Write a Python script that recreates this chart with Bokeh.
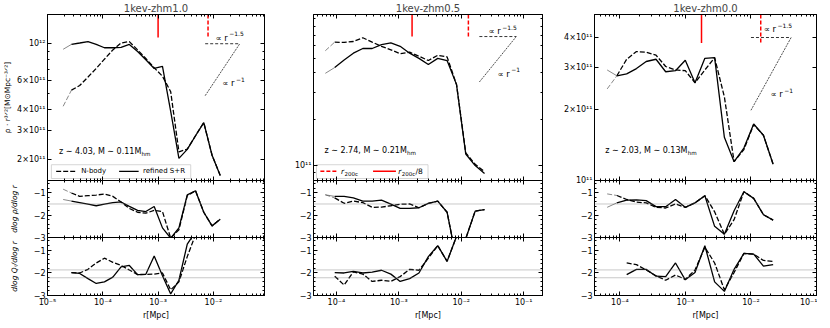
import numpy as np
from bokeh.plotting import figure
from bokeh.models import LogAxis, LinearAxis, FixedTicker, Range1d, Span
from bokeh.layouts import row, column
from bokeh.embed import file_html
from bokeh.resources import INLINE
from bokeh.core.properties import value

FONT = "DejaVu Sans"

TITLES = ["1kev-zhm1.0", "1kev-zhm0.5", "1kev-zhm0.0"]
ANNOT = ["z ∼ 4.03, M ∼ 0.11M", "z ∼ 2.74, M ∼ 0.21M", "z ∼ 2.03, M ∼ 0.13M"]

# ---------------- data: column 1 (1kev-zhm1.0) ----------------
R1 = [1.92e-5, 2.71e-5, 3.82e-5, 5.40e-5, 7.6e-5, 1.07e-4, 1.52e-4, 2.14e-4, 3.02e-4, 4.26e-4,
      6.0e-4, 8.5e-4, 1.20e-3, 1.69e-3, 2.38e-3, 3.37e-3, 4.75e-3, 6.7e-3, 9.46e-3, 1.33e-2]
NB1_RHO = [4.2e11, 5.25e11, 5.6e11, 6.3e11, 7.1e11, 8.07e11, 9.18e11, 1.01e12, 1.03e12, 9.18e11,
           8.15e11, 7.16e11, 6.37e11, 5.14e11, 2.23e11, 2.32e11, 2.79e11, 3.35e11, 2.13e11, 1.61e11]
SR1_RHO = [9.26e11, 9.91e11, 1.01e12, 1.03e12, 9.91e11, 9.46e11, 9.46e11, 9.5e11, 9.91e11, 8.98e11,
           8.0e11, 7.1e11, 7.31e11, 3.91e11, 2.04e11, 2.31e11, 2.79e11, 3.35e11, 2.13e11, 1.61e11]
NB1_S = [-0.84, -1.01, -1.16, -1.13, -1.10, -1.06, -1.16, -1.41, -1.70, -1.87,
         -1.91, -1.79, -1.84, -3.03, -2.65, -1.13, -0.91, -1.87, -2.48, -2.18]
SR1_S = [-1.30, -1.37, -1.44, -1.51, -1.58, -1.51, -1.44, -1.41, -1.61, -1.79,
         -1.84, -1.61, -2.57, -3.03, -2.57, -1.09, -0.91, -1.87, -2.48, -2.18]
R1Q = R1[1:17]
NB1_Q = [-1.99, -2.01, -1.85, -1.57, -1.36, -1.54, -1.68, -1.88, -2.08, -2.07,
         -2.06, -2.01, -2.75, -2.40, -1.29, -0.32]
SR1_Q = [-1.99, -2.03, -2.26, -2.47, -2.40, -2.19, -1.74, -1.68, -2.08, -2.07,
         -1.26, -2.13, -2.93, -2.33, -0.74, -0.20]

# ---------------- data: column 2 (1kev-zhm0.5) ----------------
R2 = [6.65e-5, 9.4e-5, 1.33e-4, 1.87e-4, 2.65e-4, 3.74e-4, 5.28e-4, 7.46e-4, 1.05e-3,
      1.49e-3, 2.10e-3, 2.97e-3, 4.2e-3, 5.93e-3, 8.4e-3, 1.18e-2, 1.67e-2, 2.36e-2]
NB2_RHO = [5.58e11, 6.35e11, 6.32e11, 6.41e11, 6.78e11, 6.35e11, 5.96e11, 5.66e11, 5.33e11,
           5.46e11, 5.14e11, 4.82e11, 5.21e11, 5.09e11, 3.36e11, 1.21e11, 1.02e11, 9.12e10]
SR2_RHO = [3.98e11, 4.34e11, 4.86e11, 5.38e11, 5.77e11, 5.77e11, 6.12e11, 6.27e11, 5.96e11,
           5.38e11, 4.98e11, 4.54e11, 4.98e11, 4.82e11, 3.36e11, 1.19e11, 1.0e11, 8.9e10]
NB2_S = [-1.09, -1.23, -1.47, -1.37, -1.44, -1.65, -1.64, -1.58, -1.51,
         -1.50, -1.67, -1.47, -1.37, -1.87, -4.0, -3.05, -1.82, -1.75]
SR2_S = [-1.09, -1.16, -1.16, -1.23, -1.37, -1.37, -1.33, -1.51, -1.70,
         -1.70, -1.67, -1.47, -1.37, -1.87, -4.0, -3.05, -1.82, -1.75]
R2Q = R2[1:15]
NB2_Q = [-2.15, -2.54, -1.96, -2.06, -2.38, -2.33, -2.38, -2.17, -1.85, -1.89, -1.36, -0.81, -1.50, -0.40]
SR2_Q = [-1.99, -2.01, -1.94, -2.01, -1.97, -1.89, -2.06, -2.38, -2.26, -2.01, -1.29, -0.81, -1.50, -0.40]

# ---------------- data: column 3 (1kev-zhm0.0) ----------------
R3 = [6.4e-5, 9.0e-5, 1.27e-4, 1.79e-4, 2.52e-4, 3.56e-4, 5.0e-4, 7.06e-4, 9.95e-4,
      1.40e-3, 1.98e-3, 2.79e-3, 3.93e-3, 5.53e-3, 7.8e-3, 1.10e-2, 1.55e-2, 2.18e-2]
NB3_RHO = [2.43e11, 2.76e11, 3.24e11, 3.49e11, 3.47e11, 3.37e11, 3.02e11, 2.92e11, 2.90e11,
           2.58e11, 2.92e11, 3.29e11, 2.25e11, 1.20e11, 1.35e11, 1.72e11, 1.55e11, 1.17e11]
SR3_RHO = [2.92e11, 2.76e11, 2.81e11, 2.96e11, 3.17e11, 3.24e11, 2.87e11, 2.90e11, 3.21e11,
           2.58e11, 3.27e11, 3.29e11, 1.52e11, 1.20e11, 1.37e11, 1.73e11, 1.55e11, 1.17e11]
NB3_S = [-1.05, -1.12, -1.30, -1.42, -1.45, -1.65, -1.68, -1.50, -1.65,
         -1.45, -1.13, -1.85, -2.86, -2.20, -0.95, -1.25, -1.98, -2.22]
SR3_S = [-1.65, -1.45, -1.33, -1.32, -1.35, -1.62, -1.62, -1.30, -1.65,
         -1.45, -1.13, -2.50, -2.86, -1.80, -0.95, -1.25, -1.98, -2.22]
R3Q = R3[2:18]
NB3_Q = [-1.57, -1.64, -1.88, -2.13, -2.33, -2.10, -2.29, -1.88, -0.88, -1.57,
         -2.75, -1.99, -1.15, -1.18, -1.46, -1.50]
SR3_Q = [-2.08, -1.85, -1.85, -2.15, -2.17, -1.57, -2.31, -1.99, -0.81, -2.40,
         -2.82, -1.85, -1.15, -1.18, -1.71, -1.64]

R200C = [8.0e-3, 1.3e-2, 1.41e-2]
R200C_8 = [1.0e-3, 1.63e-3, 1.76e-3]
RED_END = [1.09e12, 6.9e11, 3.79e11]
GUIDE_XA = [7.1e-3, 1.95e-2, 1.0e-2]
GUIDE_XB = [3.0e-2, 7.6e-2, 4.1e-2]
GUIDE_Y0 = [1.0e12, 6.9e11, 4.0e11]
SLOPE_REF = -1.5
Q_REF = [-1.875, -2.22]

XLIM = [(1e-5, 0.084), (4.3e-5, 0.2), (4.1e-5, 0.1)]
YLIM = [(1.5e11, 1.5e12), (8.0e10, 9.6e11), (1.0e11, 5.0e11)]
DLIM = (-3.0, -0.45)

YMAJ = [[2e11, 3e11, 4e11, 6e11, 1e12], [1e11], [1e11, 2e11, 3e11, 4e11]]
YLAB = [["2×10¹¹", "3×10¹¹", "4×10¹¹", "6×10¹¹", "10¹²"], ["10¹¹"], ["10¹¹", "2×10¹¹", "3×10¹¹", "4×10¹¹"]]
YMIN = [[5e11, 7e11, 8e11, 9e11], [9e10, 2e11, 3e11, 4e11, 5e11, 6e11, 7e11, 8e11, 9e11], [5e11]]

COLS = [
    dict(r=R1, nb=NB1_RHO, sr=SR1_RHO, nbs=NB1_S, srs=SR1_S, rq=R1Q, nbq=NB1_Q, srq=SR1_Q),
    dict(r=R2, nb=NB2_RHO, sr=SR2_RHO, nbs=NB2_S, srs=SR2_S, rq=R2Q, nbq=NB2_Q, srq=SR2_Q),
    dict(r=R3, nb=NB3_RHO, sr=SR3_RHO, nbs=NB3_S, srs=SR3_S, rq=R3Q, nbq=NB3_Q, srq=SR3_Q),
]

# ---------------- layout / style ----------------
BL = [44, 22, 31]
FW = [217, 229, 222]
BR = [27, 19, 3]
H_MAIN, H_MID, H_LOW = 166, 57, 58
OV = 6          # border shared by stacked panels (overlapped)
B_BOT = 24
TICK_FS = "8px"
DASH = "5 2"

SUP = str.maketrans("0123456789-", "⁰¹²³⁴⁵⁶⁷⁸⁹⁻")
XMAJ = [1e-6, 1e-5, 1e-4, 1e-3, 1e-2, 1e-1, 1.0]
XLAB = {t: "10" + str(e).translate(SUP) for t, e in zip(XMAJ, [-6, -5, -4, -3, -2, -1, 0])}
XMIN = [m * t for t in XMAJ[:-1] for m in range(2, 10)]
DMAJ = [-3, -2, -1]
DLAB = {-3: "−3", -2: "−2", -1: "−1"}
DMIN = [round(-3 + 0.2 * i, 2) for i in range(1, 14) if abs(round(-3 + 0.2 * i, 2) % 1) > 1e-6]


def style_axis(ax, show):
    ax.major_tick_in = 4
    ax.major_tick_out = 0
    ax.minor_tick_in = 2
    ax.minor_tick_out = 0
    ax.axis_line_color = "black"
    ax.major_tick_line_color = "black"
    ax.minor_tick_line_color = "black"
    ax.major_label_text_font = FONT
    ax.major_label_text_color = "black"
    ax.axis_label_text_font = FONT
    ax.axis_label_text_color = "black"
    if show:
        ax.major_label_text_font_size = TICK_FS
        ax.major_label_standoff = 2
    else:
        ax.major_label_text_font_size = "1px"
        ax.major_label_text_alpha = 0
        ax.major_label_standoff = 0


def make_fig(c, xr, yr, ylog, fh, top, bottom, yt, ylab, title=None, show_x=False, shift=False):
    kw = {}
    if shift:
        kw["styles"] = {"margin-top": f"-{2 * OV}px"}
    p = figure(x_axis_type="log", y_axis_type=("log" if ylog else "linear"),
               x_range=xr, y_range=yr, frame_width=FW[c], frame_height=fh,
               min_border_left=BL[c], min_border_right=BR[c],
               min_border_top=top, min_border_bottom=bottom,
               output_backend="svg", toolbar_location=None, title=title, **kw)
    p.xgrid.visible = False
    p.ygrid.visible = False
    p.outline_line_color = "black"
    p.background_fill_color = "white"
    p.border_fill_alpha = 0
    xb = p.xaxis[0]
    yl = p.yaxis[0]
    xb.ticker = FixedTicker(ticks=XMAJ, minor_ticks=XMIN)
    xb.major_label_overrides = XLAB
    style_axis(xb, show_x)
    yl.ticker = yt
    yl.major_label_overrides = ylab
    style_axis(yl, True)
    top_ax = LogAxis(ticker=FixedTicker(ticks=XMAJ, minor_ticks=XMIN))
    style_axis(top_ax, False)
    p.add_layout(top_ax, "above")
    right_ax = (LogAxis if ylog else LinearAxis)(ticker=FixedTicker(ticks=yt.ticks, minor_ticks=yt.minor_ticks))
    style_axis(right_ax, False)
    p.add_layout(right_ax, "right")
    if title is not None:
        p.title.align = "center"
        p.title.text_font = FONT
        p.title.text_font_size = "10px"
        p.title.text_font_style = "normal"
        p.title.standoff = 1
    return p, xb, yl


def fx(xr, f):
    lo, hi = np.log10(xr.start), np.log10(xr.end)
    return 10 ** (lo + f * (hi - lo))


def fyl(yr, f):
    lo, hi = np.log10(yr.start), np.log10(yr.end)
    return 10 ** (lo + f * (hi - lo))


def txt(p, x, y, s, size, dx=0, dy=0, style="normal", color="black"):
    p.text(x=[x], y=[y], text=[s], text_font=value(FONT), text_font_size=size,
           text_baseline="middle", text_align="left", x_offset=dx, y_offset=dy,
           text_color=color, text_font_style=style)


def curve(p, r, y, dash, thin_first):
    if thin_first:
        p.line(r[:2], y[:2], line_color="#555555", line_width=0.7, line_dash=dash)
        p.line(r[1:], y[1:], line_color="black", line_width=1.3, line_dash=dash)
    else:
        p.line(r, y, line_color="black", line_width=1.3, line_dash=dash)


columns = []
for c in range(3):
    d = COLS[c]
    xr = Range1d(*XLIM[c])
    yr = Range1d(*YLIM[c])

    # ---- main panel ----
    pm, pm_x, pm_y = make_fig(c, xr, yr, True, H_MAIN, 0, OV,
                              FixedTicker(ticks=YMAJ[c], minor_ticks=YMIN[c]),
                              dict(zip(YMAJ[c], YLAB[c])), title=TITLES[c])
    curve(pm, d["r"], d["nb"], DASH, True)
    curve(pm, d["r"], d["sr"], "solid", True)
    pm.segment(x0=[R200C[c]], y0=[YLIM[c][1]], x1=[R200C[c]], y1=[RED_END[c]],
               line_color="red", line_width=1.5, line_dash="4 2")
    pm.segment(x0=[R200C_8[c]], y0=[YLIM[c][1]], x1=[R200C_8[c]], y1=[RED_END[c]],
               line_color="red", line_width=1.5)
    xa, xb_, y0 = GUIDE_XA[c], GUIDE_XB[c], GUIDE_Y0[c]
    pm.line([xa, xb_], [y0, y0], line_color="black", line_width=0.8, line_dash="3 2")
    pm.line([xa, xb_], [y0 * (xa / xb_) ** 0.5, y0], line_color="black", line_width=0.7, line_dash="2 1")
    gpos = [((0.774, 0.86), (0.805, 0.587)), ((0.764, 0.90), (0.803, 0.642)), ((0.762, 0.91), (0.793, 0.52))][c]
    txt(pm, fx(xr, gpos[0][0]), fyl(yr, gpos[0][1]), "∝ r", "8.5px")
    txt(pm, fx(xr, gpos[0][0]), fyl(yr, gpos[0][1]), "−1.5", "6px", dx=13.8, dy=-4)
    txt(pm, fx(xr, gpos[1][0]), fyl(yr, gpos[1][1]), "∝ r", "8.5px")
    txt(pm, fx(xr, gpos[1][0]), fyl(yr, gpos[1][1]), "−1", "6px", dx=13.8, dy=-4)
    apos = [(0.053, 0.173), (0.048, 0.179), (0.048, 0.179)][c]
    txt(pm, fx(xr, apos[0]), fyl(yr, apos[1]), ANNOT[c], "8px")
    txt(pm, fx(xr, apos[0]), fyl(yr, apos[1]), "hm", "5.6px", dx=82.5, dy=2.5)

    if c == 0:
        pm.quad(left=[fx(xr, 0.018)], right=[fx(xr, 0.66)], bottom=[fyl(yr, 0.012)], top=[fyl(yr, 0.095)],
                fill_color="white", fill_alpha=0.85, line_color="#cccccc", line_width=0.8)
        ly = fyl(yr, 0.055)
        pm.line([fx(xr, 0.04), fx(xr, 0.13)], [ly, ly], line_color="black", line_width=1.3, line_dash=DASH)
        txt(pm, fx(xr, 0.155), ly, "N-body", "7px")
        pm.line([fx(xr, 0.33), fx(xr, 0.42)], [ly, ly], line_color="black", line_width=1.3)
        txt(pm, fx(xr, 0.44), ly, "refined S+R", "7px")
        pm_y.axis_label = "ρ · r³ᐟ²[M⊙Mpc⁻³ᐟ²]"
        pm_y.axis_label_text_font_size = "7.5px"
        pm_y.axis_label_text_font_style = "normal"
        pm_y.axis_label_standoff = 2
    if c == 1:
        pm.quad(left=[fx(xr, 0.013)], right=[fx(xr, 0.50)], bottom=[fyl(yr, 0.012)], top=[fyl(yr, 0.095)],
                fill_color="white", fill_alpha=0.85, line_color="#cccccc", line_width=0.8)
        ly = fyl(yr, 0.055)
        pm.line([fx(xr, 0.03), fx(xr, 0.105)], [ly, ly], line_color="red", line_width=1.5, line_dash="4 2")
        txt(pm, fx(xr, 0.12), ly, "r", "7.5px", style="italic")
        txt(pm, fx(xr, 0.12), ly, "200c", "5.5px", dx=3.6, dy=2.2)
        pm.line([fx(xr, 0.26), fx(xr, 0.36)], [ly, ly], line_color="red", line_width=1.5)
        txt(pm, fx(xr, 0.37), ly, "r", "7.5px", style="italic")
        txt(pm, fx(xr, 0.37), ly, "200c", "5.5px", dx=3.6, dy=2.2)
        txt(pm, fx(xr, 0.37), ly, "/8", "7.5px", dx=17.2)

    # ---- mid panel: dlog rho / dlog r ----
    pd, pd_x, pd_y = make_fig(c, xr, Range1d(*DLIM), False, H_MID, OV, OV,
                              FixedTicker(ticks=DMAJ, minor_ticks=DMIN), DLAB, shift=True)
    pd.add_layout(Span(location=SLOPE_REF, dimension="width", line_color="#777777",
                       line_width=0.8, line_dash="1 1"))
    curve(pd, d["r"], d["nbs"], DASH, True)
    curve(pd, d["r"], d["srs"], "solid", True)
    if c == 0:
        pd_y.axis_label = "dlog ρ/dlog r"
        pd_y.axis_label_text_font_size = "7.5px"
        pd_y.axis_label_text_font_style = "italic"
        pd_y.axis_label_standoff = 12

    # ---- lower panel: dlog Q_r / dlog r ----
    pq, pq_x, pq_y = make_fig(c, xr, Range1d(*DLIM), False, H_LOW, OV, B_BOT,
                              FixedTicker(ticks=DMAJ, minor_ticks=DMIN), DLAB, show_x=True, shift=True)
    for qv in Q_REF:
        pq.add_layout(Span(location=qv, dimension="width", line_color="#777777",
                           line_width=0.8, line_dash="1 1"))
    curve(pq, d["rq"], d["nbq"], DASH, False)
    curve(pq, d["rq"], d["srq"], "solid", False)
    pq_x.axis_label = "r[Mpc]"
    pq_x.axis_label_text_font_size = "8px"
    pq_x.axis_label_text_font_style = "normal"
    pq_x.axis_label_standoff = 1
    if c == 0:
        pq_y.axis_label = "dlog Qᵣ/dlog r"
        pq_y.axis_label_text_font_size = "7.5px"
        pq_y.axis_label_text_font_style = "italic"
        pq_y.axis_label_standoff = 12

    columns.append(column(pm, pd, pq, spacing=0))

layout = row(*columns, spacing=0)
open("out.html", "w").write(file_html(layout, INLINE))
